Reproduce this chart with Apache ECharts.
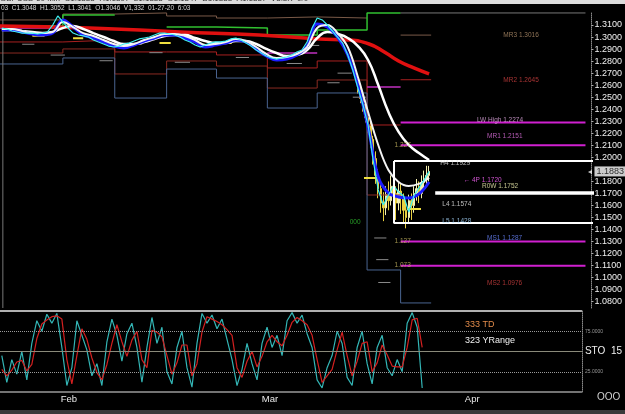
<!DOCTYPE html>
<html><head><meta charset="utf-8">
<script src="https://cdn.jsdelivr.net/npm/echarts@6/dist/echarts.min.js"></script>
<style>html,body{margin:0;padding:0;background:#000;overflow:hidden}#c{width:625px;height:414px}</style>
</head><body><div id="c"></div>
<script>
// ---------------- DATA (x = trading days from Feb 3, 2020) ----------------
const priceDay0 = -6, priceStep = 0.5;
const closes = [1.3075,1.3067,1.3050,1.3042,1.3033,1.3033,1.3033,1.3025,1.3033,1.3042,
1.3100,1.3175,1.3125,1.3075,1.3033,1.3017,1.3009,1.3000,1.2975,1.2959,
1.2942,1.2925,1.2917,1.2925,1.2942,1.2950,1.2967,1.2984,1.2992,1.3000,
1.3017,1.3033,1.3033,1.3025,1.3017,1.3000,1.2975,1.2959,1.2934,1.2917,
1.2934,1.2950,1.2959,1.2959,1.2967,1.2984,1.2992,1.2975,1.2950,1.2925,
1.2892,1.2867,1.2842,1.2826,1.2817,1.2826,1.2834,1.2851,1.2876,1.2892,
1.2959,1.3075,1.3158,1.3142,1.3100,1.3050,1.3000,1.2950,1.2851,1.2726,
1.2576,1.2435,1.2269,1.1978,1.1729,1.1604,1.1687,1.1762,1.1712,1.1679,
1.1546,1.1679,1.1746,1.1812,1.1883];

const maDay0 = -6, maStep = 1;
const maSlow = [1.3058,1.3058,1.3050,1.3042,1.3033,1.3042,1.3075,1.3092,1.3067,1.3033,1.3000,1.2967,1.2942,1.2942,1.2959,1.2984,1.3009,1.3017,1.3017,1.2992,1.2967,1.2950,1.2950,1.2967,1.2967,1.2942,1.2901,1.2867,1.2842,1.2851,1.2892,1.2992,1.3042,1.3025,1.2992,1.2925,1.2809,1.2601,1.2377,1.2211,1.2103,1.2036,1.1978];
const maFast = [1.3067,1.3067,1.3050,1.3033,1.3033,1.3042,1.3125,1.3083,1.3033,1.3009,1.2975,1.2942,1.2925,1.2942,1.2975,1.3000,1.3025,1.3025,1.3009,1.2975,1.2934,1.2942,1.2959,1.2984,1.2967,1.2917,1.2859,1.2826,1.2834,1.2859,1.2917,1.3075,1.3100,1.3033,1.2917,1.2668,1.2377,1.2103,1.1895,1.1795,1.1762,1.1779,1.1829];
const maBlue = [1.3058,1.3058,1.3042,1.3025,1.3017,1.3033,1.3142,1.3083,1.3017,1.2992,1.2959,1.2925,1.2909,1.2934,1.2967,1.2992,1.3017,1.3017,1.2992,1.2959,1.2917,1.2934,1.2950,1.2975,1.2959,1.2901,1.2842,1.2809,1.2817,1.2851,1.2925,1.3108,1.3083,1.3000,1.2851,1.2601,1.2252,1.1837,1.1704,1.1671,1.1662,1.1696,1.1795];
const ma200Days = [-6.2,2.6,11.5,19.3,25.2,28.1,30.1,31.6,33.0,34.5,36.0];
const ma200Vals = [1.3092,1.3075,1.3042,1.3017,1.2984,1.2975,1.2942,1.2876,1.2801,1.2743,1.2693];

// crash-period candles [open, close, low, high]
const candleDay0 = 29, candleStep = 0.25;
const candles = [
[1.2620,1.2560,1.2530,1.2650],[1.2560,1.2490,1.2450,1.2600],[1.2490,1.2440,1.2380,1.2520],[1.2440,1.2330,1.2290,1.2470],
[1.2330,1.2270,1.2200,1.2390],[1.2270,1.2150,1.2080,1.2300],[1.2150,1.1990,1.1940,1.2180],[1.1990,1.1850,1.1780,1.2050],
[1.1850,1.1740,1.1660,1.1900],[1.1740,1.1620,1.1540,1.1800],[1.1620,1.1580,1.1470,1.1710],[1.1580,1.1690,1.1520,1.1760],
[1.1690,1.1640,1.1560,1.1800],[1.1640,1.1760,1.1600,1.1850],[1.1760,1.1700,1.1620,1.1830],[1.1700,1.1620,1.1480,1.1760],
[1.1620,1.1720,1.1560,1.1790],[1.1720,1.1660,1.1530,1.1780],[1.1660,1.1560,1.1450,1.1700],[1.1560,1.1500,1.1410,1.1640],
[1.1500,1.1640,1.1450,1.1690],[1.1640,1.1600,1.1480,1.1700],[1.1600,1.1700,1.1540,1.1760],[1.1700,1.1740,1.1640,1.1820],
[1.1740,1.1700,1.1620,1.1800],[1.1700,1.1790,1.1660,1.1850],[1.1790,1.1820,1.1720,1.1890],[1.1820,1.1850,1.1780,1.1930],
[1.1850,1.1883,1.1800,1.1929]];

// weekly pivot levels (week boundaries in trading days)
const weekBounds = [-6.18,0,5.1,10.2,15.1,20.1,25,29.9,33.2,36.2];
const levelR3 = [1.3142,1.3191,1.3200,1.3175,1.3158,1.3167,1.3158,null];
const levelR2 = [1.3092,1.3183,null,1.3083,1.3075,1.3017,1.3058,1.3200];
const levelS1 = [1.2959,1.2975,1.2876,1.2876,1.2851,1.2743,1.2801,1.2269];
const levelS2 = [1.2867,1.2901,1.2693,1.2801,1.2759,1.2576,1.2643,1.1687];
const levelS3 = [1.2776,1.2826,1.2493,1.2734,1.2659,1.2410,1.2535,1.1064,1.0790];
const levelMag = [1.3075,null,null,null,null,1.2867,null,1.2585];

// monthly levels (current week) and long horizontal lines
const monthR3 = 1.3016, monthR2 = 1.2645;
const magentaLines = [1.2290,1.2100,1.1300,1.1100];
const topLine = 1.3200;
// last week box
const boxHigh = 1.1970, boxLow = 1.1455, boxMid = 1.1704;
const lastPrice = 1.1883;

// short daily levels [startDay, endDay, price]
const grayDashes = [[-4,-2.8,1.2940],[-1.2,0.2,1.2850],[3.6,4.9,1.2803],[6.5,7.8,1.2940],[8.5,9.8,1.2870],[11,12.5,1.2790],[13.5,14.8,1.2920],[17,18.3,1.2830],[22,23.5,1.2780],[24,25.2,1.2930],[26,27.2,1.2620],[27,28.4,1.2700],[28.5,29.8,1.2500],[30.6,31.8,1.1330],[30.8,32,1.1150],[31,32.2,1.0960]];
const yellowDashes = [[-3,-1.8,1.3010],[1,2,1.2990],[9.5,10.6,1.2950],[15.5,16.6,1.2950],[29.6,30.9,1.1829],[33.8,35.2,1.1571]];

// level labels
const labelTexts = ['MR3 1.3016','MR2 1.2645','LW High 1.2274','MR1 1.2151','H4 1.1929','\u2190 4P 1.1720','R0W 1.1752','L4 1.1574','L5 1.1428','MS1 1.1287','MS2 1.0976','000','1.227','1.127','1.073'];
const labelPrices = [1.3016,1.2645,1.2310,1.2178,1.1953,1.1812,1.1762,1.1612,1.1471,1.1330,1.0956,1.1463,1.2100,1.1300,1.1100];

// stochastic
const stochDay0 = -6, stochStep = 0.5;
const stochK = [45,12,40,22,50,15,60,88,75,96,85,97,55,8,30,88,70,52,20,35,8,62,90,70,38,72,85,55,12,55,92,60,80,25,10,55,75,30,6,60,97,85,95,78,90,65,40,8,28,60,35,15,60,80,55,70,45,88,98,85,95,72,55,15,5,30,45,75,60,18,8,55,75,35,10,55,70,30,20,40,25,85,98,80,5];
const stochD = [28,20,27,37,39,26,34,66,84,89,93,94,90,40,10,45,78,65,42,24,15,34,60,83,62,44,64,75,40,30,76,74,68,45,22,36,58,58,20,35,74,93,90,87,83,77,70,30,18,38,50,31,44,62,70,62,57,70,86,92,88,83,70,40,12,20,28,52,74,45,20,38,60,62,25,36,58,46,32,31,31,55,89,91,55];

// axes
const yTicks = [1.08,1.09,1.10,1.11,1.12,1.13,1.14,1.15,1.16,1.17,1.18,1.20,1.21,1.22,1.23,1.24,1.25,1.26,1.27,1.28,1.29,1.30,1.31];
const xTickDays = [0.7,20.8,41];
const xTickLabels = ['Feb','Mar','Apr'];

// ---------------- STYLE / BUILD ----------------
const XMIN = -6.18, XMAX = 51.96, YMIN = 1.0748, YMAX = 1.3208;
const labelDays = [43.3,43.3,40.7,41.7,37.1,39.4,41.2,37.3,37.3,41.7,41.7,28.2,32.6,32.6,32.6];
const labelColors = ['#b3906c','#d04040','#e0a8e0','#e070e0','#e6e6e6','#ff66ff','#f0f0b0','#e6e6e6','#a8d8ff','#6a86ff','#d04040','#30c030','#c8b860','#c8b860','#c8b860'];
const FONT = 'Liberation Sans, Arial, sans-serif';

function stepData(bounds, vals){
  const out=[];
  vals.forEach((v,i)=>{
    if(v==null){ out.push([bounds[i], null]); return; }
    out.push([bounds[i], v]); out.push([bounds[i+1], v]);
  });
  return out;
}
function seg(list){ const out=[]; list.forEach(s=>{out.push([s[0],s[2]]);out.push([s[1],s[2]]);out.push([s[1],null]);}); return out; }
function lineS(data, color, width, extra){
  return Object.assign({type:'line', xAxisIndex:0, yAxisIndex:0, data, showSymbol:false, symbol:'none', connectNulls:false,
    lineStyle:{color, width}, silent:true, animation:false}, extra||{});
}

const series = [];
series.push(lineS(stepData(weekBounds, levelR3), '#7a5a48', 1));
series.push(lineS(stepData(weekBounds, levelR2), '#30c030', 1.5));
series.push(lineS(stepData(weekBounds, levelS1), '#a82020', 1));
series.push(lineS(stepData(weekBounds, levelS2), '#8a2a22', 1));
series.push(lineS(stepData(weekBounds, levelS3), '#4a6490', 1));
series.push(lineS(stepData(weekBounds, levelMag), '#c030c0', 1.5));
series.push(lineS([[weekBounds[8],monthR3],[weekBounds[9],monthR3]], '#7a5a48', 1));
series.push(lineS([[weekBounds[8],monthR2],[weekBounds[9],monthR2]], '#a82020', 1));
series.push(lineS([[weekBounds[8],topLine],[51.37,topLine]], '#777777', 1));
magentaLines.forEach(p=>series.push(lineS([[weekBounds[8],p],[51.37,p]], '#d020d0', 2)));
series.push(lineS(seg(grayDashes), '#8a8a8a', 1));
series.push(lineS(seg(yellowDashes), '#f0e040', 2));
// vertical left border line
series.push(lineS([[-5.9,YMIN],[-5.9,YMAX]], '#777777', 1));
// moving averages & price
series.push(lineS(ma200Days.map((d,i)=>[d,ma200Vals[i]]), '#e01010', 3.5, {smooth:0.5}));
series.push(lineS(maSlow.map((v,i)=>[maDay0+i*maStep,v]), '#ffffff', 2.5, {smooth:0.5}));
series.push(lineS(maBlue.map((v,i)=>[maDay0+i*maStep,v]), '#1c1cff', 3, {smooth:0.4}));
series.push(lineS(maFast.map((v,i)=>[maDay0+i*maStep,v]), '#f4f4f4', 2, {smooth:0.4}));
series.push(lineS(closes.map((v,i)=>[priceDay0+i*priceStep,v]), '#3ff0f0', 1.2));
series.push({type:'candlestick', xAxisIndex:0, yAxisIndex:0, barWidth:2, animation:false, silent:true,
  data: candles.map((c,i)=>[candleDay0+i*candleStep, c[0], c[1], c[2], c[3]]),
  encode:{x:0, y:[1,2,3,4]},
  itemStyle:{color:'#f4f0b0', color0:'#e8d040', borderColor:'#f4f0b0', borderColor0:'#e8d040', borderWidth:1}});
// last-week box
series.push(lineS([[32.55,boxHigh],[52.55,boxHigh],[52.55,boxLow],[32.55,boxLow],[32.55,boxHigh]], '#ffffff', 2, {clip:false, z:5}));
series.push(lineS([[36.6,boxMid],[52.55,boxMid]], '#ffffff', 3.5, {clip:false, z:5}));
// labels
series.push({type:'scatter', xAxisIndex:0, yAxisIndex:0, symbolSize:0, silent:true, animation:false, z:6,
  data: labelTexts.map((t,i)=>({value:[labelDays[i], labelPrices[i]],
    label:{show:true, position:'right', distance:0, formatter:t, color:labelColors[i], fontSize:6.5, fontFamily:FONT}}))});
// last price tag
series.push({type:'scatter', xAxisIndex:0, yAxisIndex:0, symbolSize:0, silent:true, animation:false, clip:false, z:7,
  data:[{value:[XMAX, lastPrice], label:{show:true, position:'right', distance:3, formatter:lastPrice.toFixed(4),
    backgroundColor:'#ffffff', color:'#000', fontSize:9, fontFamily:FONT, padding:[1,2,0,2]}}]});
series.push({type:'scatter', xAxisIndex:0, yAxisIndex:0, symbolSize:0, silent:true, animation:false, clip:false, z:7,
  data:[{value:[XMAX, lastPrice], label:{show:true, position:'left', distance:-1, formatter:'\u25c2', color:'#fff', fontSize:8}}]});

// stochastic panel
series.push({type:'line', xAxisIndex:1, yAxisIndex:1, showSymbol:false, symbol:'none', animation:false, silent:true,
  data: stochK.map((v,i)=>[stochDay0+i*stochStep, v]), lineStyle:{color:'#33b5b5', width:1.2},
  markLine:{silent:true, symbol:'none', label:{show:false}, animation:false, data:[
    {yAxis:75, lineStyle:{color:'#9a9a9a', type:'dotted', width:1}},
    {yAxis:25, lineStyle:{color:'#9a9a9a', type:'dotted', width:1}},
    {yAxis:50, lineStyle:{color:'#8a8a7a', type:'solid', width:1}},
    {yAxis:0, lineStyle:{color:'#9a9a9a', type:'solid', width:1.5}},
    {yAxis:100, lineStyle:{color:'#b0b0b0', type:'solid', width:2}}]}});
series.push({type:'line', xAxisIndex:1, yAxisIndex:1, showSymbol:false, symbol:'none', animation:false, silent:true,
  data: stochD.map((v,i)=>[stochDay0+i*stochStep, v]), lineStyle:{color:'#d42020', width:1.2}});

const option = {
  backgroundColor:'#000',
  animation:false,
  grid:[{left:0, right:32, top:12, height:296},{left:0, right:32, top:311, height:81}],
  xAxis:[
    {type:'value', gridIndex:0, min:XMIN, max:XMAX, show:false},
    {type:'value', gridIndex:1, min:XMIN, max:XMAX, axisLine:{show:false}, axisTick:{show:false}, splitLine:{show:false},
      axisLabel:{customValues:xTickDays, margin:2, color:'#e8e8e8', fontSize:9.5, fontFamily:FONT,
        formatter:(v)=>xTickLabels[xTickDays.indexOf(v)]}}
  ],
  yAxis:[
    {type:'value', gridIndex:0, position:'right', min:YMIN, max:YMAX, splitLine:{show:false},
      axisLine:{show:true, onZero:false, lineStyle:{color:'#888', type:'dotted'}},
      axisTick:{show:true, customValues:yTicks, length:2, lineStyle:{color:'#aaa'}},
      axisLabel:{customValues:yTicks, margin:3, color:'#f0f0f0', fontSize:9, fontFamily:FONT, formatter:(v)=>v.toFixed(4)}},
    {type:'value', gridIndex:1, position:'right', min:0, max:100, splitLine:{show:false},
      axisLine:{show:true, onZero:false, lineStyle:{color:'#888', type:'dotted'}}, axisTick:{show:false},
      axisLabel:{customValues:[25,50,75], margin:3, fontFamily:FONT,
        formatter:(v)=> v===50 ? '{b|STO  15}' : '{s|'+v.toFixed(4)+'}',
        rich:{b:{color:'#f0f0f0', fontSize:10, fontFamily:FONT}, s:{color:'#999', fontSize:5, fontFamily:FONT}}}}
  ],
  graphic:[
    {type:'rect', shape:{x:0,y:0,width:625,height:4}, style:{fill:'#dcdcdc'}, z:100},
    {type:'text', left:0, top:-5, style:{text:'GBPUSD 60 Min  C1.1883  H1.1897  L1.1838  O1.1847  B1.1883  A1.1887  V3.3K  0/0', fill:'#333', font:'8px '+FONT}, z:101},
    {type:'rect', shape:{x:0,y:4,width:625,height:1}, style:{fill:'#000'}, z:101},
    {type:'text', left:1, top:5, style:{text:'03  C1.3048  H1.3052  L1.3041  O1.3046  V1,332  01-27-20  6:03', fill:'#d8d8d8', font:'6.5px '+FONT}, z:100},
    {type:'text', left:465, top:320, style:{text:'333 TD', fill:'#e08a4a', font:'9px '+FONT}},
    {type:'text', left:465, top:336, style:{text:'323 YRange', fill:'#f0f0f0', font:'9px '+FONT}},
    {type:'text', left:597, top:392, style:{text:'OOO', fill:'#d0d0d0', font:'10px '+FONT}},
    {type:'rect', shape:{x:0,y:410,width:625,height:4}, style:{fill:'#3a3a3a'}}
  ],
  series
};
const chart = echarts.init(document.getElementById('c'), null, {renderer:'canvas'});
chart.setOption(option);
</script></body></html>
